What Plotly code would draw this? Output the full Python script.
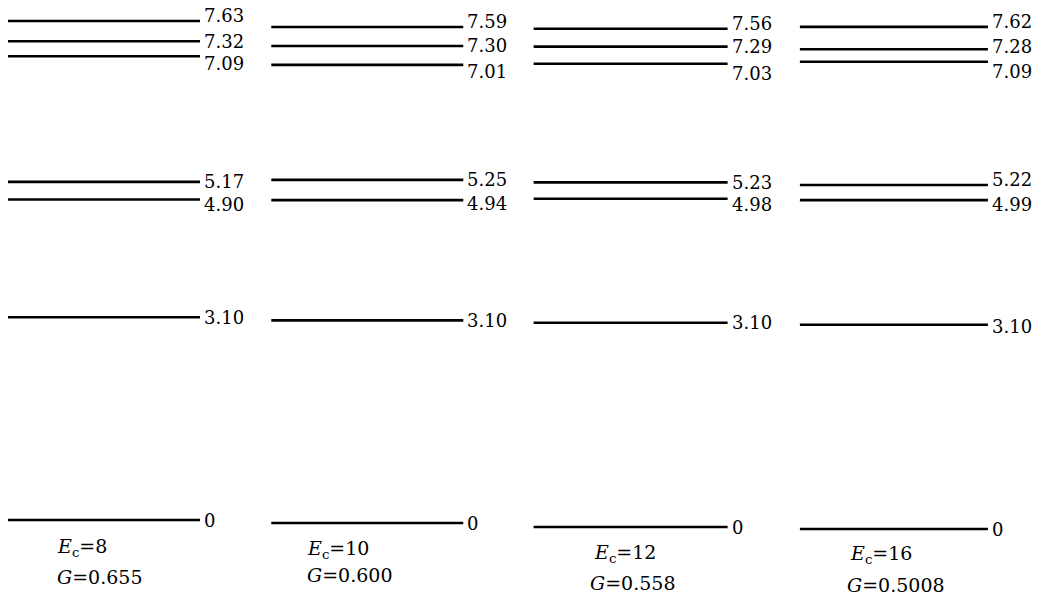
import plotly.graph_objects as go

# ---- data ----
ec_values = ["8", "10", "12", "16"]
g_values = ["0.655", "0.600", "0.558", "0.5008"]
levels_ec8 = [0, 3.10, 4.90, 5.17, 7.09, 7.32, 7.63]
levels_ec10 = [0, 3.10, 4.94, 5.25, 7.01, 7.30, 7.59]
levels_ec12 = [0, 3.10, 4.98, 5.23, 7.03, 7.29, 7.56]
levels_ec16 = [0, 3.10, 4.99, 5.22, 7.09, 7.28, 7.62]
level_labels_ec8 = ["0", "3.10", "4.90", "5.17", "7.09", "7.32", "7.63"]
level_labels_ec10 = ["0", "3.10", "4.94", "5.25", "7.01", "7.30", "7.59"]
level_labels_ec12 = ["0", "3.10", "4.98", "5.23", "7.03", "7.29", "7.56"]
level_labels_ec16 = ["0", "3.10", "4.99", "5.22", "7.09", "7.28", "7.62"]

groups = [levels_ec8, levels_ec10, levels_ec12, levels_ec16]
group_labels = [level_labels_ec8, level_labels_ec10, level_labels_ec12, level_labels_ec16]

# ---- layout/style (not data) ----
W, H = 1049, 601
zero_px = [520, 523, 527, 529]        # pixel row of level 0 in each column (scan skew)
scale_px = [65.4, 65.35, 65.9, 65.9]  # pixels per unit
label_shift = [                        # label vertical offsets (px, up positive)
    [0, 0, -5, 0, -7, 0, 6],
    [0, 0, -3, 0, -7, 0, 5],
    [0, 0, -6, 0, -10, 0, 5],
    [0, -2, -4, 6, -10, 3, 5],
]
half_w = [96 / 263.3, 96 / 263.3, 97 / 263.3, 94 / 263.3]
x_range = [-104 / 263.3, (W - 104) / 263.3]
ec_pos = [(55, 547), (305, 549), (592, 553), (848, 554)]
g_pos = [(55, 577), (305, 575), (588, 583), (845, 585)]

font_family = "DejaVu Serif"

fig = go.Figure()
annotations = []
for gi, lv in enumerate(groups):
    yname = "y" if gi == 0 else f"y{gi+1}"
    xs, ys = [], []
    for v in lv:
        xs += [gi - half_w[gi], gi + half_w[gi], None]
        ys += [v, v, None]
    fig.add_trace(go.Scatter(x=xs, y=ys, mode="lines", yaxis=yname,
                             line=dict(color="black", width=2.6),
                             hoverinfo="skip", showlegend=False))
    for v, t, s in zip(lv, group_labels[gi], label_shift[gi]):
        annotations.append(dict(x=gi + half_w[gi], y=v, xref="x", yref=yname,
                                text=t, showarrow=False, xanchor="left",
                                yanchor="middle", xshift=2, yshift=s,
                                font=dict(family=font_family, size=18, color="black")))
    ex, ey = ec_pos[gi]
    annotations.append(dict(x=ex / W, y=1 - ey / H, xref="paper", yref="paper",
                            text="<i>E</i><sub>c</sub>=" + ec_values[gi],
                            showarrow=False, xanchor="left", yanchor="middle",
                            font=dict(family=font_family, size=19, color="black")))
    gx, gy = g_pos[gi]
    annotations.append(dict(x=gx / W, y=1 - gy / H, xref="paper", yref="paper",
                            text="<i>G</i>=" + g_values[gi],
                            showarrow=False, xanchor="left", yanchor="middle",
                            font=dict(family=font_family, size=19, color="black")))

layout_axes = {}
for gi in range(4):
    p0, s = zero_px[gi], scale_px[gi]
    rng = [-(H - p0) / s, p0 / s]
    ax = dict(range=rng, visible=False, showgrid=False, zeroline=False,
              fixedrange=True, domain=[0, 1])
    if gi == 0:
        layout_axes["yaxis"] = ax
    else:
        ax["overlaying"] = "y"
        layout_axes[f"yaxis{gi+1}"] = ax

fig.update_layout(
    width=W, height=H, autosize=False,
    margin=dict(l=0, r=0, t=0, b=0),
    paper_bgcolor="white", plot_bgcolor="white",
    xaxis=dict(range=x_range, visible=False, showgrid=False, zeroline=False, fixedrange=True),
    annotations=annotations,
    **layout_axes,
)

fig.write_html("out.html", config={"displayModeBar": False},
               post_script="document.body.style.margin='0';document.body.style.overflow='hidden';")
